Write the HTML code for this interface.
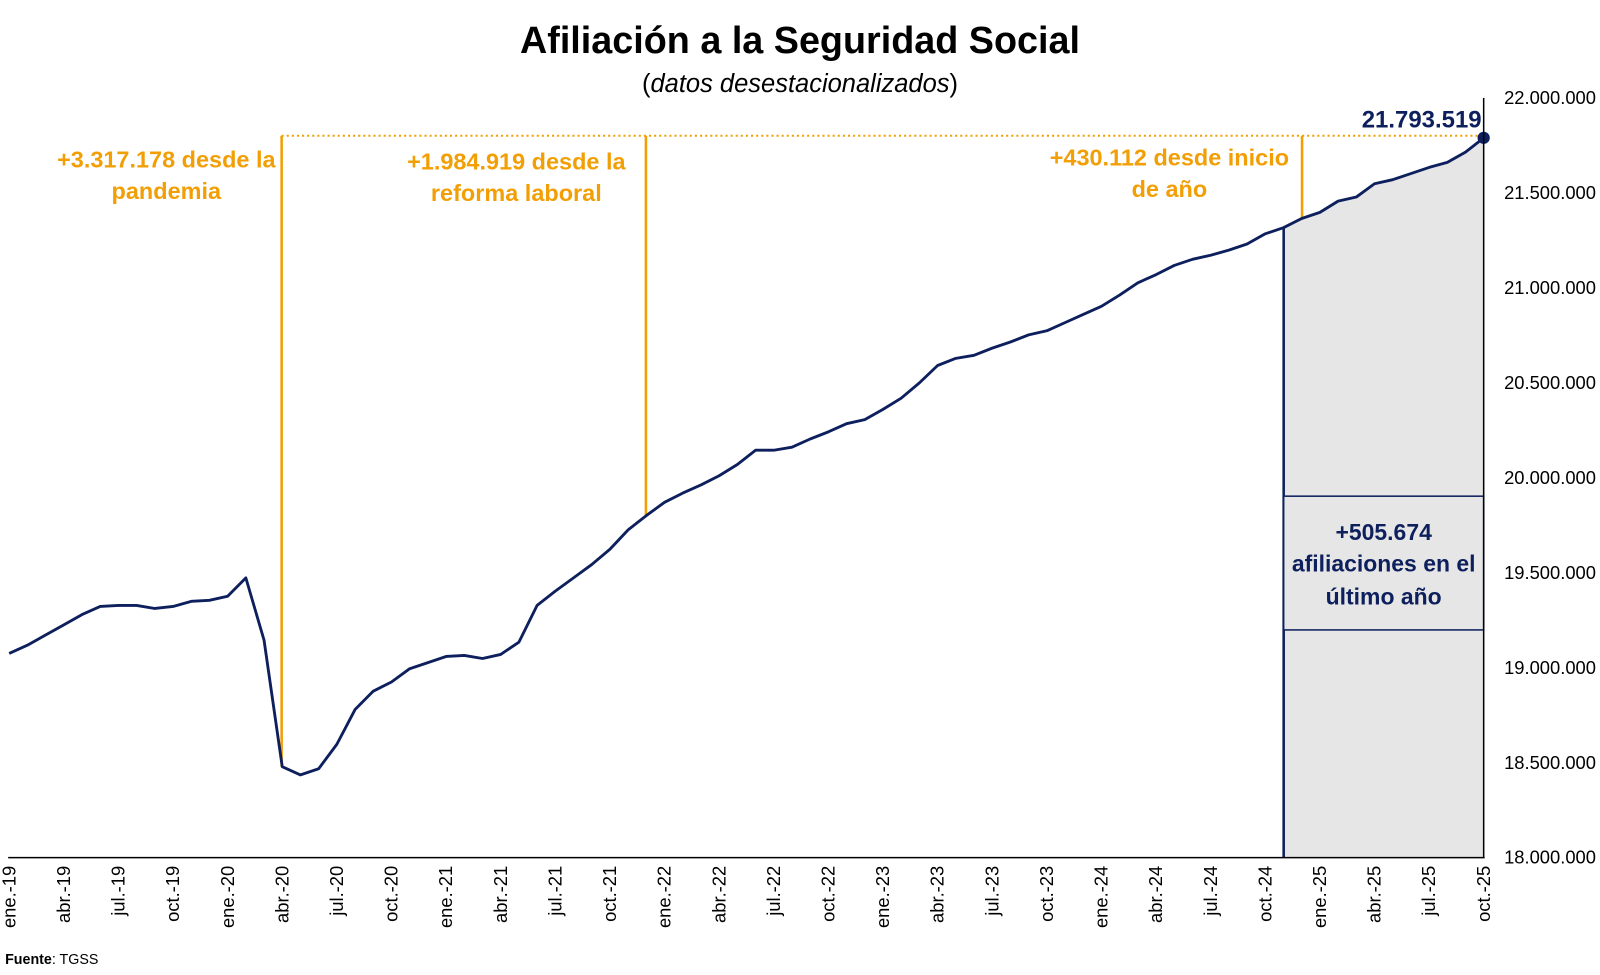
<!DOCTYPE html>
<html><head><meta charset="utf-8"><style>
html,body{margin:0;padding:0;background:#fff;}
svg{display:block;font-family:"Liberation Sans",Calibri,sans-serif;}
</style></head><body>
<svg width="1600" height="975" viewBox="0 0 1568 955" preserveAspectRatio="none" xmlns="http://www.w3.org/2000/svg">
<rect width="1568" height="955" fill="#fff"/>
<text x="784" y="52" text-anchor="middle" font-size="37" font-weight="bold" fill="#000">Afiliación a la Seguridad Social</text>
<text x="784" y="90" text-anchor="middle" font-size="25" fill="#000">(<tspan font-style="italic">datos desestacionalizados</tspan>)</text>
<g id="chart"></g>
<text x="5" y="944" font-size="14" fill="#000"><tspan font-weight="bold">Fuente</tspan>: TGSS</text>
</svg>
<script>
const ys=[640,632,622,612,602,594,593,593,596,594,589,588,584,566,627,751,759,753,729,695,677,668,655,649,643,642,645,641,629,593,579,566,553,538,519,505,492,483,475,466,455,441,441,438,430,423,415,411,401,390,375,358,351,348,341,335,328,324,316,308,300,289,277,269,260,254,250,245,239,229,223,214,208,197,193,180,176,170,164,159,149,135];
const X=i=>9+i*17.84;
const g=document.getElementById('chart');
let h='';
let a=`M1258,840 L1258,${ys[70]} `;
for(let i=70;i<=81;i++)a+=`L${X(i)},${ys[i]} `;
a+=`L1454,840 Z`;
h+=`<path d="${a}" fill="#e6e6e6"/>`;
h+=`<line x1="1258" y1="222" x2="1258" y2="840" stroke="#0d1f5c" stroke-width="2.5"/>`;
h+=`<rect x="1258" y="486" width="196" height="131" fill="#e6e6e6" stroke="#0d1f5c" stroke-width="1.5"/>`;
h+=`<text text-anchor="middle" font-size="22.5" font-weight="bold" fill="#0d1f5c"><tspan x="1356" y="529">+505.674</tspan><tspan x="1356" y="560">afiliaciones en el</tspan><tspan x="1356" y="592">último año</tspan></text>`;
h+=`<line x1="276" y1="133" x2="1454" y2="133" stroke="#f29f05" stroke-width="2" stroke-dasharray="2,3"/>`;
h+=`<line x1="276" y1="133" x2="276" y2="751" stroke="#f29f05" stroke-width="2.5"/>`;
h+=`<line x1="633" y1="133" x2="633" y2="505" stroke="#f29f05" stroke-width="2.5"/>`;
h+=`<line x1="1276" y1="133" x2="1276" y2="214" stroke="#f29f05" stroke-width="2.5"/>`;
h+=`<text text-anchor="middle" font-size="23" font-weight="bold" fill="#f29f05"><tspan x="163" y="164">+3.317.178 desde la</tspan><tspan x="163" y="195">pandemia</tspan><tspan x="506" y="166">+1.984.919 desde la</tspan><tspan x="506" y="197">reforma laboral</tspan><tspan x="1146" y="162">+430.112 desde inicio</tspan><tspan x="1146" y="193">de año</tspan></text>`;
h+=`<polyline fill="none" stroke="#0d1f5c" stroke-width="2.8" stroke-linejoin="round" points="${ys.map((y,i)=>X(i)+','+y).join(' ')}"/>`;
h+=`<circle cx="1454" cy="135" r="6" fill="#0d1f5c"/>`;
h+=`<text x="1452" y="125" text-anchor="end" font-size="23.5" font-weight="bold" fill="#0d1f5c">21.793.519</text>`;
h+=`<line x1="8" y1="840" x2="1455" y2="840" stroke="#000" stroke-width="1.5"/>`;
h+=`<line x1="1454" y1="96" x2="1454" y2="840" stroke="#000" stroke-width="1.5"/>`;
for(let k=0;k<=8;k++){const v=18000000+k*500000;const y=840-k*93;
h+=`<text x="1474" y="${y+6}" font-size="18" fill="#000">${v.toLocaleString('de-DE')}</text>`;}
const m=['ene','abr','jul','oct'];
for(let i=0;i<=81;i+=3){const yr=19+Math.floor(i/12);const lab=m[(i%12)/3]+'.-'+yr;const x=X(i)+6;
h+=`<text transform="translate(${x},848) rotate(-90)" text-anchor="end" font-size="18" fill="#000">${lab}</text>`;}
g.innerHTML=h;
</script>
</body></html>
